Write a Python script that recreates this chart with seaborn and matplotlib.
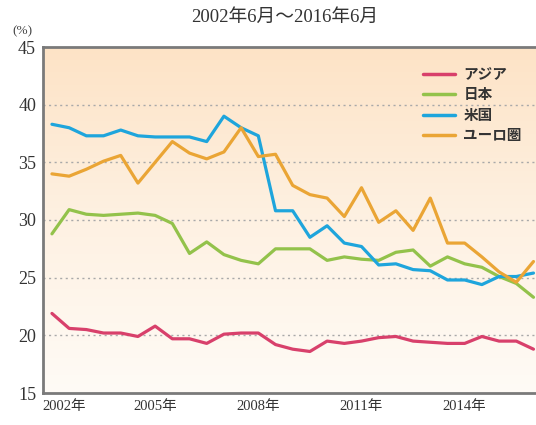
import numpy as np
import pandas as pd
import matplotlib
matplotlib.use("Agg")
import matplotlib.pyplot as plt
import seaborn as sns
from matplotlib.colors import LinearSegmentedColormap

# Semiannual observations, 2002年6月 ... 2016年6月
periods = [f"{y}-{m:02d}" for y in range(2002, 2017) for m in (6, 12)][:29]

asia = [21.9, 20.6, 20.5, 20.2, 20.2, 19.9, 20.8, 19.7, 19.7, 19.3, 20.1, 20.2,
        20.2, 19.2, 18.8, 18.6, 19.5, 19.3, 19.5, 19.8, 19.9, 19.5, 19.4, 19.3,
        19.3, 19.9, 19.5, 19.5, 18.8]
japan = [28.8, 30.9, 30.5, 30.4, 30.5, 30.6, 30.4, 29.7, 27.1, 28.1, 27.0, 26.5,
         26.2, 27.5, 27.5, 27.5, 26.5, 26.8, 26.6, 26.5, 27.2, 27.4, 26.0, 26.8,
         26.2, 25.9, 25.1, 24.5, 23.3]
usa = [38.3, 38.0, 37.3, 37.3, 37.8, 37.3, 37.2, 37.2, 37.2, 36.8, 39.0, 38.0,
       37.3, 30.8, 30.8, 28.5, 29.5, 28.0, 27.7, 26.1, 26.2, 25.7, 25.6, 24.8,
       24.8, 24.4, 25.1, 25.1, 25.4]
euro = [34.0, 33.8, 34.4, 35.1, 35.6, 33.2, 35.0, 36.8, 35.8, 35.3, 35.9, 38.0,
        35.5, 35.7, 33.0, 32.2, 31.9, 30.3, 32.8, 29.8, 30.8, 29.1, 31.9, 28.0,
        28.0, 26.8, 25.5, 24.6, 26.4]

series_names = ["アジア", "日本", "米国", "ユーロ圏"]
series_colors = ["#d8406b", "#93c24b", "#1ea5dc", "#eaa535"]
tick_pos = [0.7, 6, 12, 18, 24]
tick_labels = ["2002年", "2005年", "2008年", "2011年", "2014年"]
title = "2002年6月～2016年6月"

rows = []
for name, vals in zip(series_names, [asia, japan, usa, euro]):
    for i, v in enumerate(vals):
        rows.append({"idx": i, "period": periods[i], "value": v, "series": name})
df = pd.DataFrame(rows)

sns.set_style("white")
serif_cjk = ["Liberation Serif", "Noto Sans CJK JP"]
plt.rcParams["font.family"] = serif_cjk

W, H = 536, 425
fig = plt.figure(figsize=(W / 100, H / 100), dpi=100)
fig.patch.set_facecolor("white")
L, R, T, B = 43, 545, 47, 393
ax = fig.add_axes([L / W, 1 - B / H, (R - L) / W, (B - T) / H])

# background gradient: peach at top fading to near white at bottom
cmap = LinearSegmentedColormap.from_list("bg", ["#fde3c6", "#fef1e2", "#fffbf6"])
grad = np.linspace(0, 1, 256).reshape(-1, 1)
ax.imshow(grad, aspect="auto", cmap=cmap, extent=[0, 1, 0, 1],
          transform=ax.transAxes, zorder=0, origin="upper")

for y in [20, 25, 30, 35, 40]:
    ax.axhline(y, color="#a9a9a9", lw=1.0, ls=(0, (1.5, 2.5)), zorder=1)

sns.lineplot(data=df, x="idx", y="value", hue="series", hue_order=series_names,
             palette=series_colors, linewidth=2.3, ax=ax, legend=True, zorder=3)

ax.set_xlim(-0.52, 28.67)
ax.set_ylim(15, 45)
ax.set_yticks([15, 20, 25, 30, 35, 40, 45])
ax.set_yticklabels(["15", "20", "25", "30", "35", "40", "45"], fontsize=13,
                   color="#333333")
ax.set_xticks(tick_pos)
ax.set_xticklabels(tick_labels, fontsize=10.5, color="#333333")
ax.tick_params(axis="x", direction="in", length=5, width=1, color="#777777", pad=5)
ax.tick_params(axis="y", length=0, pad=5)
ax.set_xlabel("")
ax.set_ylabel("")
for s in ["left", "bottom", "top"]:
    ax.spines[s].set_color("#7a7a7a")
    ax.spines[s].set_linewidth(2)
ax.spines["right"].set_visible(False)

leg = ax.legend(loc="upper left", bbox_to_anchor=(0.73, 0.975), frameon=False,
                fontsize=10.5, handlelength=2.2, labelspacing=0.5,
                handletextpad=0.6)
for line in leg.get_lines():
    line.set_linewidth(2.5)
for t in leg.get_texts():
    t.set_color("#333333")
    t.set_fontweight("bold")

fig.text(285 / W, 1 - 17 / H, title, ha="center", va="center", fontsize=13.5,
         color="#333333")
fig.text(22 / W, 1 - 31 / H, "(%)", ha="center", va="center", fontsize=9.5,
         color="#444444")

fig.savefig("out.png", dpi=100)
